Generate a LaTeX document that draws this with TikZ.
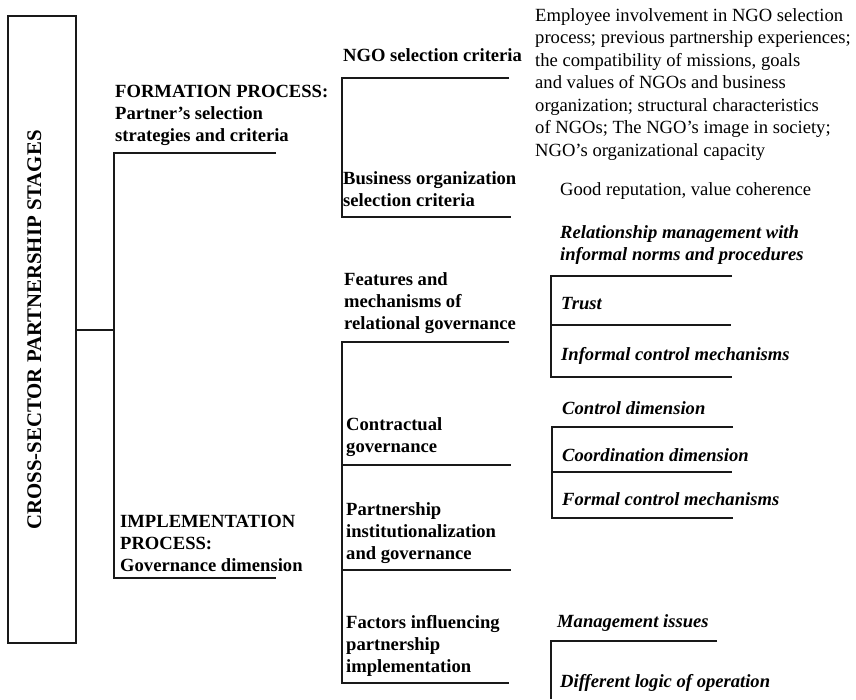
\documentclass[tikz,border=0pt]{standalone}
\usepackage{fontspec}
\setmainfont{Liberation Serif}
\usepackage{tikz}

\begin{document}
\begin{tikzpicture}[x=1pt, y=-1pt,
    line/.style = {line width=2pt, black!90},
    head/.style = {font=\fontsize{18.6}{22}\selectfont\bfseries, align=left, anchor=base west, inner sep=0pt},
    sub/.style = {font=\fontsize{18.6}{22}\selectfont\bfseries\itshape, align=left, anchor=base west, inner sep=0pt},
    plain/.style = {font=\fontsize{18.6}{22.5}\selectfont, align=left, anchor=base west, inner sep=0pt}]
    \useasboundingbox (0,0) rectangle (856,699);

    % Nodes (multi-line texts sit on the baseline of their last line)

    \node[draw, line width=1.3pt, black!90, minimum width=68pt, minimum height=627pt, inner sep=0pt] (stages) at (42,329.5) {};
    \node[rotate=90, anchor=base, font=\fontsize{20.8}{24}\selectfont\bfseries] (title) at (41,330) {CROSS-SECTOR PARTNERSHIP STAGES};

    \node[head] (formation) at (115,141) {FORMATION PROCESS:\\Partner's selection\\strategies and criteria};
    \node[head] (implementation) at (120,571.5) {IMPLEMENTATION\\PROCESS:\\Governance dimension};

    \node[head] (ngo) at (343,61.5) {NGO selection criteria};
    \node[head] (business) at (343,206.5) {Business organization\\selection criteria};
    \node[head] (features) at (344,329) {Features and\\mechanisms of\\relational governance};
    \node[head] (contractual) at (346,452) {Contractual\\governance};
    \node[head] (institution) at (346,559) {Partnership\\institutionalization\\and governance};
    \node[head] (factors) at (346,672) {Factors influencing\\partnership\\implementation};

    \node[plain] (ngocrit) at (535,156) {Employee involvement in NGO selection\\process; previous partnership experiences;\\the compatibility of missions, goals\\and values of NGOs and business\\organization; structural characteristics\\of NGOs; The NGO's image in society;\\NGO's organizational capacity};
    \node[plain] (bizcrit) at (560,195) {Good reputation, value coherence};

    \node[sub] (relmgmt) at (560,260) {Relationship management with\\informal norms and procedures};
    \node[sub] (trust) at (561,309) {Trust};
    \node[sub] (informal) at (561,360) {Informal control mechanisms};
    \node[sub] (control) at (562,414) {Control dimension};
    \node[sub] (coord) at (562,461) {Coordination dimension};
    \node[sub] (formal) at (562,505) {Formal control mechanisms};
    \node[sub] (mgmt) at (557,627) {Management issues};
    \node[sub] (logic) at (560,687) {Different logic of operation};

    % Corners

    \coordinate (a1) at (114,153);   \coordinate (a1e) at (276,153);
    \coordinate (a2) at (114,578);   \coordinate (a2e) at (276,578);

    \coordinate (b1) at (342,78.3);  \coordinate (b1e) at (509,78.3);
    \coordinate (b2) at (342,217);   \coordinate (b2e) at (511,217);

    \coordinate (c1) at (342,342);   \coordinate (c1e) at (509,342);
    \coordinate (c2) at (342,465);   \coordinate (c2e) at (511,465);
    \coordinate (c3) at (342,570);   \coordinate (c3e) at (511,570);
    \coordinate (c4) at (342,683);   \coordinate (c4e) at (509,683);

    \coordinate (d1) at (551,276);   \coordinate (d1e) at (732,276);
    \coordinate (d2) at (551,325);   \coordinate (d2e) at (731,325);
    \coordinate (d3) at (551,377);   \coordinate (d3e) at (732,377);

    \coordinate (e1) at (552,427);   \coordinate (e1e) at (733,427);
    \coordinate (e2) at (552,472);   \coordinate (e2e) at (732,472);
    \coordinate (e3) at (552,518);   \coordinate (e3e) at (733,518);

    \coordinate (g1) at (551,641);   \coordinate (g1e) at (717,641);
    \coordinate (g2) at (551,699);

    % Edges

    \draw[line] (stages.east) -- (stages.east -| a1);
    \draw[line] (a1e) -- (a1) -- (a2) -- (a2e);

    \draw[line] (b1e) -- (b1) -- (b2) -- (b2e);

    \draw[line] (c1e) -- (c1) -- (c4) -- (c4e);
    \draw[line] (c2) -- (c2e);
    \draw[line] (c3) -- (c3e);

    \draw[line] (d1e) -- (d1) -- (d3) -- (d3e);
    \draw[line] (d2) -- (d2e);

    \draw[line] (e1e) -- (e1) -- (e3) -- (e3e);
    \draw[line] (e2) -- (e2e);

    \draw[line] (g1e) -- (g1) -- (g2);

\end{tikzpicture}
\end{document}
